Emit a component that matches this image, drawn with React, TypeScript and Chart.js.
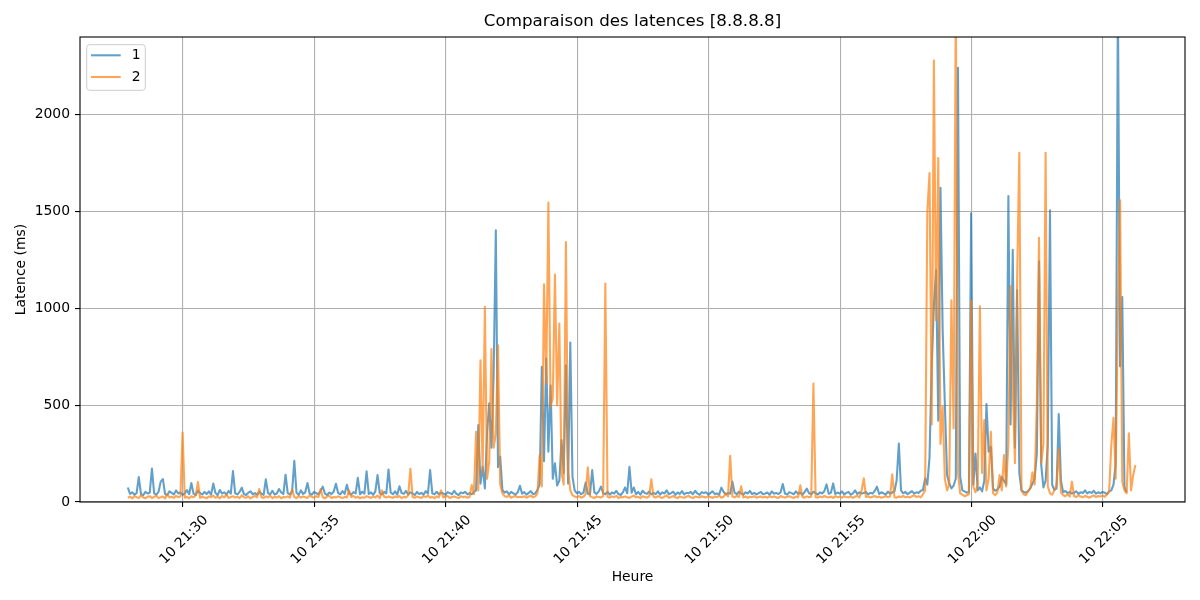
import { useEffect, useRef } from "react";
import { Chart, registerables } from "chart.js";

Chart.register(...registerables);

// Sampling: first sample at 21:27:54 (minute 27.9 after 21:00), one sample every 5 s
const START_MINUTE = 27.9;
const SAMPLE_SECONDS = 5;

const chartTitle = "Comparaison des latences [8.8.8.8]";
const seriesNames = ["1", "2"];

// Series "1" latencies (ms), one row = one minute (12 samples)
const series1Rows: number[][] = [
  [75, 42, 50, 38, 46, 129, 40, 35, 52, 44, 48, 173],
  [45, 38, 52, 105, 118, 41, 36, 55, 47, 39, 60, 44],
  [50, 37, 45, 61, 40, 98, 43, 36, 58, 46, 39, 52],
  [41, 55, 38, 95, 47, 35, 62, 44, 50, 38, 57, 43],
  [160, 45, 39, 52, 74, 41, 36, 48, 55, 40, 46, 38],
  [52, 43, 37, 117, 46, 40, 58, 39, 44, 67, 50, 41],
  [141, 46, 39, 55, 213, 48, 37, 60, 42, 50, 98, 44],
  [38, 52, 45, 40, 57, 79, 43, 36, 49, 41, 54, 94],
  [47, 39, 56, 42, 89, 45, 38, 51, 44, 125, 40, 53],
  [43, 158, 41, 50, 37, 55, 139, 46, 39, 52, 44, 168],
  [48, 40, 55, 38, 81, 46, 42, 57, 39, 50, 44, 36],
  [52, 41, 47, 38, 56, 43, 165, 45, 39, 53, 40, 48],
  [44, 37, 51, 46, 40, 58, 42, 36, 49, 45, 53, 39],
  [46, 40, 52, 60, 397, 95, 182, 70, 355, 509, 280, 655],
  [1402, 180, 234, 62, 48, 55, 40, 52, 45, 38, 50, 84],
  [43, 51, 38, 47, 56, 40, 45, 62, 90, 698, 210, 740],
  [260, 603, 120, 200, 85, 110, 320, 150, 706, 95, 823, 130],
  [60, 45, 52, 40, 48, 100, 44, 39, 165, 50, 42, 55],
  [79, 46, 40, 53, 38, 49, 44, 57, 41, 36, 50, 75],
  [45, 182, 48, 75, 40, 52, 38, 58, 46, 42, 54, 39],
  [47, 41, 55, 38, 50, 44, 60, 40, 46, 53, 37, 49],
  [42, 56, 39, 48, 45, 52, 40, 58, 44, 37, 51, 46],
  [50, 38, 47, 55, 41, 44, 39, 74, 52, 40, 46, 43],
  [105, 48, 40, 53, 45, 38, 50, 44, 57, 41, 47, 39],
  [46, 52, 40, 44, 49, 38, 55, 43, 47, 41, 50, 93],
  [44, 39, 51, 46, 40, 55, 42, 48, 37, 52, 69, 45],
  [40, 53, 46, 38, 50, 44, 57, 91, 42, 48, 96, 41],
  [49, 43, 55, 40, 47, 52, 38, 45, 60, 42, 50, 44],
  [46, 52, 39, 48, 43, 57, 79, 41, 50, 45, 38, 54],
  [43, 49, 55, 113, 302, 60, 45, 52, 40, 48, 56, 44],
  [50, 46, 58, 62, 122, 90, 229, 706, 1015, 1196, 420, 1622],
  [887, 505, 140, 96, 70, 85, 120, 2241, 130, 60, 55, 48],
  [52, 1490, 90, 250, 60, 75, 55, 110, 505, 259, 285, 70],
  [58, 65, 80, 130, 110, 90, 1579, 400, 1302, 280, 1093, 150],
  [60, 52, 48, 56, 70, 95, 120, 250, 1242, 190, 75, 110],
  [300, 1505, 88, 62, 70, 454, 110, 50, 57, 46, 52, 44],
  [48, 55, 42, 50, 46, 60, 44, 52, 47, 58, 43, 50],
  [45, 52, 48, 40, 55, 60, 90, 199, 2600, 700, 1058, 80],
  [50],
];

// Series "2" latencies (ms)
const series2Rows: number[][] = [
  [22, 28, 18, 31, 25, 20, 35, 24, 19, 27, 30, 21],
  [26, 33, 20, 24, 29, 18, 40, 23, 27, 21, 32, 25],
  [28, 359, 22, 26, 19, 30, 24, 35, 103, 21, 27, 23],
  [20, 29, 25, 33, 22, 27, 19, 31, 24, 38, 21, 26],
  [30, 23, 27, 20, 34, 25, 22, 29, 18, 26, 32, 24],
  [67, 25, 21, 28, 24, 33, 20, 27, 23, 30, 19, 26],
  [24, 29, 22, 65, 26, 20, 31, 23, 28, 25, 21, 34],
  [27, 22, 30, 25, 67, 24, 19, 28, 32, 21, 26, 23],
  [29, 24, 20, 27, 23, 60, 26, 31, 22, 28, 19, 25],
  [22, 30, 26, 21, 28, 24, 33, 20, 60, 27, 23, 29],
  [25, 21, 29, 24, 31, 20, 27, 23, 35, 172, 26, 22],
  [28, 24, 21, 30, 25, 33, 22, 27, 20, 29, 24, 60],
  [23, 27, 31, 21, 26, 29, 24, 20, 30, 25, 28, 22],
  [26, 88, 40, 363, 60, 732, 150, 1007, 120, 210, 789, 280],
  [350, 809, 90, 45, 30, 26, 35, 22, 28, 31, 24, 27],
  [25, 30, 22, 28, 33, 24, 29, 45, 241, 80, 1124, 612],
  [1545, 491, 536, 1174, 500, 921, 150, 90, 1342, 165, 60, 35],
  [28, 24, 31, 22, 27, 40, 179, 30, 25, 21, 29, 26],
  [23, 30, 1127, 27, 22, 29, 25, 32, 20, 26, 24, 28],
  [25, 21, 28, 33, 24, 27, 20, 30, 26, 22, 29, 117],
  [27, 23, 30, 25, 21, 28, 34, 22, 26, 31, 24, 20],
  [29, 25, 22, 27, 32, 24, 20, 28, 26, 23, 30, 25],
  [24, 30, 26, 21, 28, 25, 33, 22, 27, 45, 29, 239],
  [28, 24, 31, 26, 81, 23, 29, 21, 27, 25, 30, 22],
  [26, 29, 23, 27, 22, 30, 25, 28, 24, 21, 31, 26],
  [23, 27, 30, 25, 21, 28, 24, 86, 26, 22, 29, 25],
  [27, 612, 25, 22, 29, 24, 31, 26, 23, 28, 21, 30],
  [25, 28, 22, 30, 26, 24, 29, 21, 27, 32, 23, 60],
  [122, 26, 29, 23, 27, 31, 24, 28, 22, 26, 30, 25],
  [28, 143, 25, 22, 29, 26, 31, 24, 27, 23, 30, 35],
  [26, 30, 24, 40, 60, 1497, 1698, 400, 2279, 938, 1775, 300],
  [491, 120, 60, 90, 1041, 380, 2600, 150, 45, 38, 30, 35],
  [40, 1038, 80, 50, 90, 1010, 150, 423, 60, 120, 362, 45],
  [35, 50, 139, 60, 242, 80, 300, 1113, 594, 200, 1153, 1803],
  [60, 40, 35, 55, 70, 153, 90, 517, 1364, 200, 300, 1803],
  [80, 45, 38, 60, 90, 273, 50, 35, 30, 40, 28, 105],
  [30, 26, 35, 28, 24, 32, 27, 22, 29, 34, 25, 31],
  [28, 33, 26, 40, 55, 294, 435, 120, 990, 1557, 105, 60],
  [45, 354, 60, 140, 191],
];

// Axis ticks (minutes after 21:00) and their labels
const xTickMinutes = [30, 35, 40, 45, 50, 55, 60, 65];
const xTickLabels = [
  "10 21:30",
  "10 21:35",
  "10 21:40",
  "10 21:45",
  "10 21:50",
  "10 21:55",
  "10 22:00",
  "10 22:05",
];
const yTickValues = [0, 500, 1000, 1500, 2000];

const X_MIN = 26.08;
const X_MAX = 68.12;
const Y_MAX = 2400;

const FONT = "'DejaVu Sans', 'Liberation Sans', sans-serif";
const COLORS = ["rgba(31,119,180,0.7)", "rgba(255,127,14,0.7)"];
const LINE_W = 2.08;

function toPoints(rows: number[][]) {
  return rows.flat().map((v, i) => ({
    x: START_MINUTE + (i * SAMPLE_SECONDS) / 60,
    y: v,
  }));
}

const titlePlugin = {
  id: "axesTitle",
  afterDraw(chart: any) {
    const { ctx, chartArea: a } = chart;
    ctx.save();
    ctx.fillStyle = "#000";
    ctx.font = `16.7px ${FONT}`;
    ctx.textAlign = "center";
    ctx.textBaseline = "middle";
    ctx.fillText(chartTitle, (a.left + a.right) / 2, 22);
    ctx.restore();
  },
};

const spinePlugin = {
  id: "spines",
  afterDatasetsDraw(chart: any) {
    const { ctx, chartArea: a } = chart;
    ctx.save();
    ctx.strokeStyle = "#000";
    ctx.lineWidth = 1.1;
    ctx.strokeRect(a.left, a.top, a.right - a.left, a.bottom - a.top);
    ctx.restore();
  },
};

const legendPlugin = {
  id: "mplLegend",
  afterDraw(chart: any) {
    const { ctx, chartArea: a } = chart;
    const x0 = a.left + 6.7;
    const y0 = a.top + 7.7;
    const w = 58.6;
    const h = 45.6;
    const r = 3;
    ctx.save();
    ctx.beginPath();
    ctx.moveTo(x0 + r, y0);
    ctx.lineTo(x0 + w - r, y0);
    ctx.quadraticCurveTo(x0 + w, y0, x0 + w, y0 + r);
    ctx.lineTo(x0 + w, y0 + h - r);
    ctx.quadraticCurveTo(x0 + w, y0 + h, x0 + w - r, y0 + h);
    ctx.lineTo(x0 + r, y0 + h);
    ctx.quadraticCurveTo(x0, y0 + h, x0, y0 + h - r);
    ctx.lineTo(x0, y0 + r);
    ctx.quadraticCurveTo(x0, y0, x0 + r, y0);
    ctx.closePath();
    ctx.fillStyle = "rgba(255,255,255,0.8)";
    ctx.fill();
    ctx.strokeStyle = "#cccccc";
    ctx.lineWidth = 1;
    ctx.stroke();
    seriesNames.forEach((name, i) => {
      const y = y0 + 10.6 + i * 21.7;
      ctx.beginPath();
      ctx.moveTo(x0 + 4.3, y);
      ctx.lineTo(x0 + 34, y);
      ctx.strokeStyle = COLORS[i];
      ctx.lineWidth = LINE_W;
      ctx.stroke();
      ctx.fillStyle = "#000";
      ctx.font = `13.9px ${FONT}`;
      ctx.textAlign = "left";
      ctx.textBaseline = "middle";
      ctx.fillText(name, x0 + 45, y);
    });
    ctx.restore();
  },
};

export default function App() {
  const canvasRef = useRef<HTMLCanvasElement | null>(null);

  useEffect(() => {
    if (!canvasRef.current) return;
    const tickFont = { family: FONT, size: 13.9 };
    const chart = new Chart(canvasRef.current, {
      type: "line",
      data: {
        datasets: [
          {
            label: seriesNames[0],
            data: toPoints(series1Rows),
            borderColor: COLORS[0],
            borderWidth: LINE_W,
            pointRadius: 0,
            tension: 0,
            borderJoinStyle: "round",
            order: 2,
          },
          {
            label: seriesNames[1],
            data: toPoints(series2Rows),
            borderColor: COLORS[1],
            borderWidth: LINE_W,
            pointRadius: 0,
            tension: 0,
            borderJoinStyle: "round",
            order: 1,
          },
        ],
      },
      options: {
        responsive: false,
        animation: false,
        devicePixelRatio: 1,
        layout: { padding: { left: 0, right: 15, top: 37, bottom: 0 } },
        plugins: {
          legend: { display: false },
          tooltip: { enabled: false },
          title: { display: false },
        },
        scales: {
          x: {
            type: "linear",
            min: X_MIN,
            max: X_MAX,
            afterBuildTicks: (scale: any) => {
              scale.ticks = xTickMinutes.map((v) => ({ value: v }));
            },
            afterFit: (scale: any) => {
              scale.height = 98;
            },
            ticks: {
              autoSkip: false,
              maxRotation: 45,
              minRotation: 45,
              color: "#000",
              font: tickFont,
              padding: 5,
              labelOffset: 23,
              callback: (value: any) => {
                const idx = xTickMinutes.indexOf(Number(value));
                return idx >= 0 ? xTickLabels[idx] : "";
              },
            },
            grid: {
              color: "#b0b0b0",
              lineWidth: 1.1,
              tickColor: "#000",
              tickLength: 5,
              tickWidth: 1.1,
            },
            border: { display: false },
            title: {
              display: true,
              text: "Heure",
              color: "#000",
              font: tickFont,
              padding: { top: 0, bottom: 14.6 },
            },
          },
          y: {
            min: 0,
            max: Y_MAX,
            afterBuildTicks: (scale: any) => {
              scale.ticks = yTickValues.map((v) => ({ value: v }));
            },
            afterFit: (scale: any) => {
              scale.width = 80;
            },
            ticks: {
              color: "#000",
              font: tickFont,
              padding: 5,
              callback: (value: any) => String(value),
            },
            grid: {
              color: "#b0b0b0",
              lineWidth: 1.1,
              tickColor: "#000",
              tickLength: 5,
              tickWidth: 1.1,
            },
            border: { display: false },
            title: {
              display: true,
              text: "Latence (ms)",
              color: "#000",
              font: tickFont,
              padding: { top: 12.6, bottom: 0 },
            },
          },
        },
      },
      plugins: [spinePlugin, legendPlugin, titlePlugin],
    } as any);
    return () => chart.destroy();
  }, []);

  return (
    <div
      style={{
        position: "absolute",
        left: 0,
        top: 0,
        width: 1200,
        height: 600,
        background: "#fff",
      }}
    >
      <canvas ref={canvasRef} width={1200} height={600} />
    </div>
  );
}
